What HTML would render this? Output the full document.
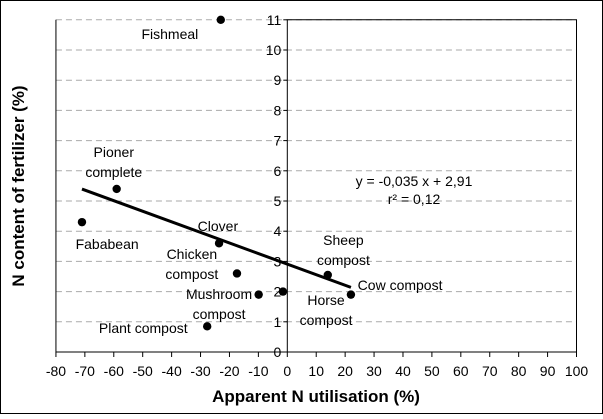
<!DOCTYPE html>
<html><head><meta charset="utf-8"><style>
body{margin:0;background:#fff;}
svg text{font-family:"Liberation Sans",sans-serif;}
</style></head><body>
<svg id="chart" width="603" height="414" xmlns="http://www.w3.org/2000/svg">
<rect x="0.5" y="0.5" width="602" height="413" fill="#fff" stroke="#000"/>
<g id="grid"></g><g id="axes"></g><g id="marks"></g>
<text x="316" y="402" font-size="17" font-weight="bold" text-anchor="middle">Apparent N utilisation (%)</text>
<text transform="translate(24,186) rotate(-90)" font-size="17" font-weight="bold" text-anchor="middle">N content of fertilizer (%)</text>
<text x="414" y="186" font-size="14" text-anchor="middle">y = -0,035 x + 2,91</text>
<text x="414" y="204" font-size="14" text-anchor="middle">r² = 0,12</text>
</svg>
<script>
const xTicks=[-80,-70,-60,-50,-40,-30,-20,-10,0,10,20,30,40,50,60,70,80,90,100];
const yTicks=[0,1,2,3,4,5,6,7,8,9,10,11];
const names=["Fishmeal","Pioner complete","Fababean","Clover","Chicken compost","Mushroom compost","Horse compost","Sheep compost","Cow compost","Plant compost"];
const xVals=[-23,-59,-71,-23.6,-17.4,-9.9,-1.5,14,22,-27.7];
const yVals=[11,5.4,4.3,3.6,2.6,1.9,2.0,2.55,1.9,0.85];
const slope=-0.035, intercept=2.91, fitRange=[-71,22];
const labelPos=[[-40.6,10.36,["Fishmeal"]],[-60,6.46,["Pioner","complete"]],[-62.3,3.41,["Fababean"]],[-24,4.0,["Clover"]],[-33,3.08,["Chicken","compost"]],[-23.6,1.75,["Mushroom","compost"]],[13.4,1.56,["Horse","compost"]],[19.4,3.54,["Sheep","compost"]],[39,2.05,["Cow compost"]],[-49.8,0.63,["Plant compost"]]];
const X=v=>287.3+v*2.892, Y=v=>352-v*30.2;
const ns="http://www.w3.org/2000/svg";
function mk(t,a,p){const e=document.createElementNS(ns,t);for(const k in a)e.setAttribute(k,a[k]);p.appendChild(e);return e;}
const grid=document.getElementById('grid'),axes=document.getElementById('axes'),marks=document.getElementById('marks');
yTicks.forEach(t=>{if(t>0){const l=mk('line',{x1:X(-80),x2:X(100),y1:Y(t),y2:Y(t),stroke:'#aaa','stroke-dasharray':'6,4'},grid);

}
const tk=mk('line',{x1:X(0)-4,x2:X(0),y1:Y(t),y2:Y(t),stroke:'#000'},axes);


const tx=mk('text',{x:X(0)-6,y:Y(t)+5,'font-size':14,'text-anchor':'end',fill:'#000'},axes);tx.textContent=t;

});
const frame=mk('path',{d:`M${X(-80)},${Y(11)} V${Y(0)} H${X(100)} V${Y(11)} H${X(0)} V${Y(0)}`,fill:'none',stroke:'#000'},axes);


xTicks.forEach(t=>{const tk=mk('line',{x1:X(t),x2:X(t),y1:Y(0),y2:Y(0)+5,stroke:'#000'},axes);


const tx=mk('text',{x:X(t),y:376,'font-size':14,'text-anchor':'middle'},axes);tx.textContent=t;

});
const fit=mk('line',{x1:X(fitRange[0]),y1:Y(slope*fitRange[0]+intercept),x2:X(fitRange[1]),y2:Y(slope*fitRange[1]+intercept),stroke:'#000','stroke-width':3},marks);


xVals.forEach((v,i)=>{const c=mk('circle',{cx:X(v),cy:Y(yVals[i]),r:4.2,fill:'#000'},marks);

});
labelPos.forEach(([lx,ly,lines],i)=>{const t=mk('text',{x:X(lx),y:Y(ly),'font-size':14,'text-anchor':'middle'},marks);


lines.forEach((s,j)=>{const ts=mk('tspan',{x:X(lx),dy:j?20:0},t);ts.textContent=s;});});
</script>
</body></html>
